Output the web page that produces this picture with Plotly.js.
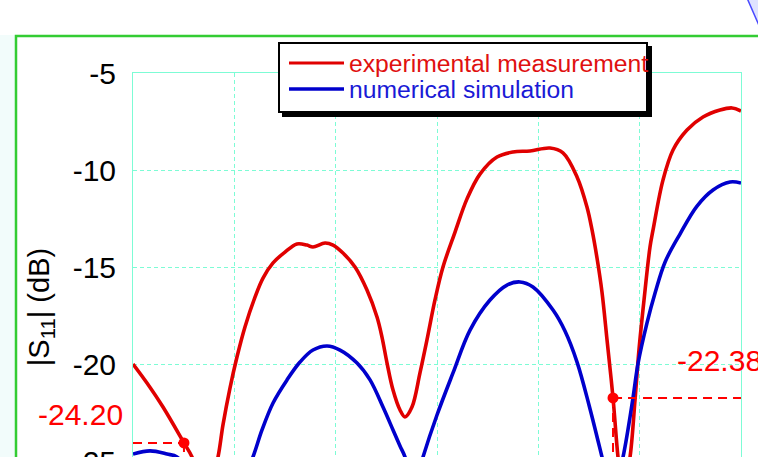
<!DOCTYPE html>
<html>
<head>
<meta charset="utf-8">
<script src="https://cdn.plot.ly/plotly-3.0.1.min.js"></script>
<style>
html,body{margin:0;padding:0;width:758px;height:457px;overflow:hidden;background:#fff;}
#wrap{width:758px;height:457px;overflow:hidden;position:relative;}
#chart{width:758px;height:620px;}
</style>
</head>
<body>
<div id="wrap"><div id="chart"></div></div>
<script>
// ---- data ----
const seriesNames = ['experimental measurement', 'numerical simulation'];
const yTitle = '|S<sub>11</sub>| (dB)';
const yTickVals = [-5, -10, -15, -20, -25];
const yTickText = ['-5', '-10', '-15', '-20', '-25'];

const measX = [2.000,2.138,2.296,2.503,2.582,2.641,2.71,2.78,2.839,2.888,2.957,3.026,3.105,3.204,3.283,3.382,3.500,3.618,3.717,3.776,3.895,3.974,4.072,4.191,4.309,4.408,4.457,4.507,4.566,4.635,4.684,4.753,4.832,4.901,4.980,5.059,5.178,5.296,5.424,5.592,5.750,5.918,6.115,6.243,6.382,6.480,6.530,6.579,6.628,6.678,6.737,6.786,6.816,6.86,6.905,6.954,6.993,7.043,7.102,7.132,7.230,7.329,7.467,7.625,7.793,7.911,8.000];
const measY = [-20.00,-20.98,-22.22,-24.07,-24.79,-25.88,-26.6,-25.88,-24.79,-23.14,-21.24,-19.64,-18.09,-16.55,-15.57,-14.79,-14.23,-13.81,-13.87,-13.97,-13.76,-13.87,-14.28,-15.00,-16.19,-17.58,-18.61,-19.95,-21.34,-22.37,-22.73,-22.22,-20.46,-18.76,-16.70,-15.00,-13.20,-11.49,-10.21,-9.33,-9.07,-9.02,-8.87,-9.12,-10.36,-11.91,-13.09,-14.54,-16.29,-18.76,-21.75,-24.79,-26.0,-25.9,-24.79,-21.86,-19.28,-16.70,-13.97,-13.09,-10.52,-8.97,-7.94,-7.27,-6.91,-6.80,-6.96];

const simX = [2.000,2.168,2.336,2.434,2.56,2.70,2.90,3.06,3.184,3.273,3.382,3.520,3.648,3.776,3.915,4.043,4.211,4.339,4.467,4.566,4.635,4.684,4.77,4.862,5.000,5.158,5.326,5.523,5.691,5.819,5.947,6.145,6.263,6.382,6.500,6.628,6.73,6.836,6.934,6.983,7.072,7.152,7.251,7.398,7.566,7.724,7.892,8.000];
const simY = [-24.64,-24.48,-24.64,-24.79,-25.6,-26.9,-27.2,-26.3,-24.79,-23.40,-22.01,-20.82,-19.90,-19.28,-19.07,-19.28,-19.95,-20.82,-22.22,-23.40,-24.23,-24.79,-26.5,-24.79,-22.63,-20.46,-18.25,-16.70,-15.93,-15.77,-16.03,-17.22,-18.30,-19.90,-22.11,-24.79,-27.0,-24.79,-21.75,-20.00,-17.89,-16.34,-14.74,-13.30,-11.86,-11.03,-10.62,-10.67];

const cursorX = [2.503, 6.737];
const cursorY = [-24.07, -21.75];
const cursorLabels = ['-24.20', '-22.38'];

// ---- layout geometry (pixels) ----
const L = 133, R = 741, T = 73, B = 541;
const W = R - L, H = B - T;
const xp = px => (px - L) / W;
const yp = py => (B - py) / H;

const xRange = [2, 8];
const yRange = [-29.124, -5];

const FONT = 'Liberation Sans, Arial, sans-serif';
const RED = '#e00000', BLUE = '#0000cc', GRID = '#7dfcd5';

const traces = [
  {x: measX, y: measY, name: seriesNames[0], mode: 'lines',
   line: {color: RED, width: 3.6, shape: 'spline', smoothing: 1.0}},
  {x: simX, y: simY, name: seriesNames[1], mode: 'lines',
   line: {color: BLUE, width: 3.6, shape: 'spline', smoothing: 1.0}},
  {x: cursorX, y: cursorY, mode: 'markers', name: 'cursor',
   marker: {color: '#ff0000', size: 11}}
];

const shapes = [
  // light strip at far left
  {type:'rect', xref:'paper', yref:'paper', x0: xp(0), x1: xp(15), y0: -0.3, y1: yp(35),
   fillcolor:'#f2fcfb', line:{width:0}, layer:'above'},
  // green outer frame
  {type:'rect', xref:'paper', yref:'paper', x0: xp(16), x1: xp(790), y0: -0.3, y1: yp(36),
   fillcolor:'rgba(0,0,0,0)', line:{color:'#33cc33', width:2.5}, layer:'above'},
  // top-right decoration
  {type:'path', xref:'paper', yref:'paper',
   path: `M ${xp(747)},${yp(-2)} L ${xp(772)},${yp(55)} L ${xp(772)},${yp(-2)} Z`,
   fillcolor:'#dfe3ff', line:{color:'#4a4aff', width:1.5}, layer:'above'},
  // cursor dashed lines
  {type:'line', xref:'x', yref:'y', x0: xRange[0], x1: cursorX[0], y0: cursorY[0], y1: cursorY[0],
   line:{color:'#ff0000', width:2, dash:'9px,6px'}},
  {type:'line', xref:'x', yref:'y', x0: cursorX[0], x1: cursorX[0], y0: cursorY[0], y1: yRange[0],
   line:{color:'#ff0000', width:2, dash:'9px,6px'}},
  {type:'line', xref:'x', yref:'y', x0: cursorX[1], x1: xRange[1], y0: cursorY[1], y1: cursorY[1],
   line:{color:'#ff0000', width:2, dash:'9px,6px'}},
  {type:'line', xref:'x', yref:'y', x0: cursorX[1], x1: cursorX[1], y0: cursorY[1], y1: yRange[0],
   line:{color:'#ff0000', width:2, dash:'9px,6px'}},
  // legend shadow + box
  {type:'rect', xref:'paper', yref:'paper', x0: xp(282), x1: xp(652), y0: yp(117), y1: yp(46),
   fillcolor:'#000', line:{width:0}, layer:'above'},
  {type:'rect', xref:'paper', yref:'paper', x0: xp(279), x1: xp(647), y0: yp(112), y1: yp(43),
   fillcolor:'#fff', line:{color:'#000', width:2}, layer:'above'},
  {type:'line', xref:'paper', yref:'paper', x0: xp(289), x1: xp(344), y0: yp(63), y1: yp(63),
   line:{color:RED, width:3}, layer:'above'},
  {type:'line', xref:'paper', yref:'paper', x0: xp(289), x1: xp(344), y0: yp(89), y1: yp(89),
   line:{color:BLUE, width:3.5}, layer:'above'}
];

const annotations = [
  {text: seriesNames[0], xref:'paper', yref:'paper', x: xp(347), y: yp(63), xanchor:'left', yanchor:'middle',
   showarrow:false, font:{family:FONT, size:24.7, color:'#e01010'}},
  {text: seriesNames[1], xref:'paper', yref:'paper', x: xp(347), y: yp(89), xanchor:'left', yanchor:'middle',
   showarrow:false, font:{family:FONT, size:24.7, color:'#1a1ad6'}},
  {text: cursorLabels[0], xref:'paper', yref:'paper', x: xp(125), y: yp(414), xanchor:'right', yanchor:'middle',
   showarrow:false, font:{family:FONT, size:30, color:'#ff0000'}},
  {text: cursorLabels[1], xref:'paper', yref:'paper', x: xp(675), y: yp(360), xanchor:'left', yanchor:'middle',
   showarrow:false, font:{family:FONT, size:30, color:'#ff0000'}}
];

const layout = {
  width: 758, height: 620,
  margin: {l: L, r: 758 - R, t: T, b: 620 - B, pad: 0},
  paper_bgcolor: '#fff', plot_bgcolor: '#fff',
  showlegend: false,
  font: {family: FONT, color: '#000'},
  xaxis: {
    range: xRange, tickmode: 'linear', tick0: 2, dtick: 1,
    showticklabels: false, ticks: '',
    showgrid: true, gridcolor: GRID, gridwidth: 1, griddash: '4px,3px',
    showline: true, mirror: true, linecolor: GRID, linewidth: 1, zeroline: false
  },
  yaxis: {
    range: yRange, tickmode: 'array', tickvals: yTickVals, ticktext: yTickText,
    ticks: '', ticklabelstandoff: 10,
    tickfont: {family: FONT, size: 30, color: '#000'},
    showgrid: true, gridcolor: GRID, gridwidth: 1, griddash: '4px,3px',
    showline: true, mirror: true, linecolor: GRID, linewidth: 1, zeroline: false,
    title: {text: yTitle, font: {family: FONT, size: 29, color: '#000'}, standoff: 14}
  },
  shapes: shapes,
  annotations: annotations
};

Plotly.newPlot('chart', traces, layout, {displayModeBar: false, staticPlot: true});
</script>
</body>
</html>
